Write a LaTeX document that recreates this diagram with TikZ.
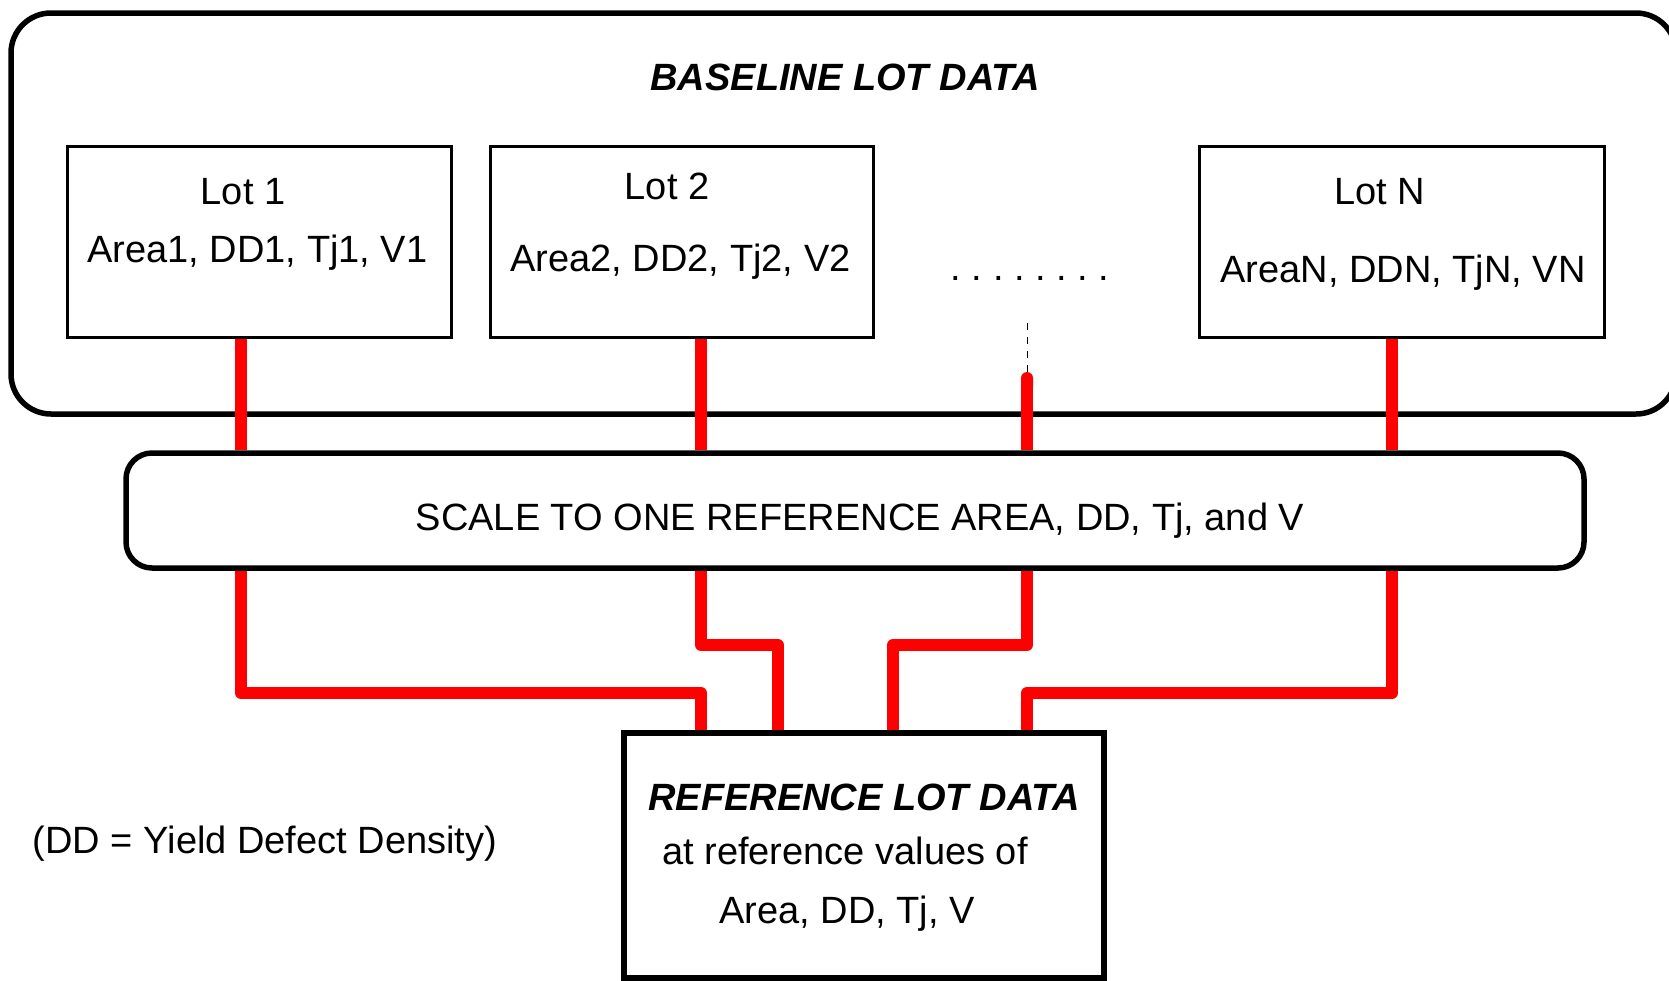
\documentclass[tikz,border=0pt]{standalone}
\usepackage{fontspec}
\setmainfont{Liberation Sans}
\usetikzlibrary{arrows.meta}
\begin{document}
\begin{tikzpicture}[x=1pt, y=-1pt, font=\fontsize{38}{46}\selectfont]
\tikzset{
  panel/.style={draw=black, line width=5.5pt, rounded corners=40pt, inner sep=0pt},
  lotbox/.style={draw=black, line width=3pt, inner sep=0pt},
  scalebox/.style={draw=black, line width=5.5pt, rounded corners=26pt, fill=white, inner sep=0pt},
  refbox/.style={draw=black, line width=5.5pt, fill=white, inner sep=0pt},
  txt/.style={inner sep=0pt, anchor=base},
  head/.style={txt, font=\fontsize{38}{46}\selectfont\bfseries\itshape},
  wire/.style={draw=red, line width=12pt, line join=round},
  guide/.style={draw=black, line width=1pt, dash pattern=on 7pt off 7pt},
}
\useasboundingbox (0,0) rectangle (1669,980);

% baseline panel with the individual lots
\node[panel, minimum width=1665, minimum height=401] (baseline) at (843.5,213.5) {};
\node[head] (title) at (845,90) {BASELINE LOT DATA};

\node[lotbox, minimum width=384, minimum height=191] (lot1) at (259,242) {};
\node[lotbox, minimum width=383, minimum height=191] (lot2) at (681.5,241.5) {};
\node[lotbox, minimum width=405, minimum height=191] (lotN) at (1401.5,241.5) {};

\node[txt] (lot1name) at (243,204) {Lot 1};
\node[txt] (lot1vals) at (257.5,262) {Area1, DD1, Tj1, V1};
\node[txt] (lot2name) at (667,199) {Lot 2};
\node[txt] (lot2vals) at (680.5,271) {Area2, DD2, Tj2, V2};
\node[txt] (lotNname) at (1380,204) {Lot N};
\node[txt] (lotNvals) at (1403,282) {AreaN, DDN, TjN, VN};
\node[txt] (ellipsis) at (1030,280) {\frenchspacing . . . . . . . .};

% scaling step and reference result
\node[scalebox, minimum width=1458, minimum height=115] (scale) at (855,510.5) {};
\node[txt] (scaletext) at (860,530) {SCALE TO ONE REFERENCE AREA, DD, Tj, and V};

% connector columns and rows
\coordinate (k1) at (241,0);
\coordinate (k2) at (701,0);
\coordinate (k3) at (1027,0);
\coordinate (k4) at (1392,0);
\coordinate (j2) at (778,0);
\coordinate (j3) at (893,0);
\coordinate (r1) at (0,693);
\coordinate (r2) at (0,645);
\coordinate (dtop) at (1027,323);
\coordinate (dstub) at (1027,372);

\node[refbox, minimum width=480, minimum height=245] (ref) at (864,855.5) {};
\node[head] (reftitle) at (864,810) {REFERENCE LOT DATA};
\node[txt] (refline1) at (845,864) {at reference values of};
\node[txt] (refline2) at (847,923) {Area, DD, Tj, V};

\node[txt] (note) at (265,853) {(DD = Yield Defect Density)};

% lots into the scaling step
\draw[wire] (lot1.south -| k1) -- (scale.north -| k1);
\draw[wire] (lot2.south -| k2) -- (scale.north -| k2);
\draw[wire] (lotN.south -| k4) -- (scale.north -| k4);
\draw[guide] (dtop) -- (dstub);
\draw[wire, {Round Cap[]}-] (dstub) -- (scale.north -| k3);

% scaled lots into the reference data
\draw[wire] (scale.south -| k1) -- (k1 |- r1) -- (k2 |- r1) -- (ref.north -| k2);
\draw[wire] (scale.south -| k2) -- (k2 |- r2) -- (j2 |- r2) -- (ref.north -| j2);
\draw[wire] (scale.south -| k3) -- (k3 |- r2) -- (j3 |- r2) -- (ref.north -| j3);
\draw[wire] (scale.south -| k4) -- (k4 |- r1) -- (k3 |- r1) -- (ref.north -| k3);
\end{tikzpicture}
\end{document}
